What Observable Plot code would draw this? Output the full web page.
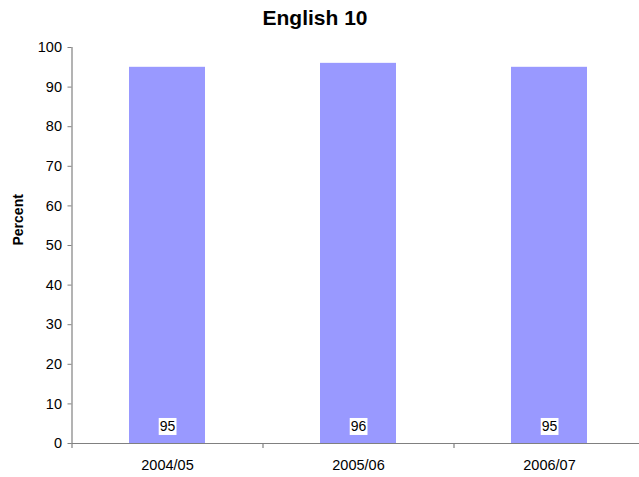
<!DOCTYPE html>
<html>
<head>
<meta charset="utf-8">
<script src="https://cdn.jsdelivr.net/npm/d3@7"></script>
<script src="https://cdn.jsdelivr.net/npm/@observablehq/plot@0.6"></script>
<style>
  html, body { margin: 0; padding: 0; background: #fff; }
  #title { box-sizing: border-box; height: 35px; width: 639px; padding-top: 7px; padding-right: 9px; text-align: center; font-family: "Liberation Sans", Arial, sans-serif; font-weight: bold; font-size: 21px; line-height: 21px; color: #000; }
  #chart { width: 639px; }
</style>
</head>
<body>
<div id="title">English 10</div>
<div id="chart"></div>
<script>
const years = ["2004/05", "2005/06", "2006/07"];
const values = [95, 96, 95];
const yTicks = [0, 10, 20, 30, 40, 50, 60, 70, 80, 90, 100];
const yLabel = "Percent";

const data = years.map((y, i) => ({year: y, value: values[i]}));

const W = 639, H = 442;
const xRange = [71.5, 644.5];
const step = (xRange[1] - xRange[0]) / years.length;
const font = "Liberation Sans, Arial, sans-serif";
const axisColor = "#808080";

const plot = Plot.plot({
  width: W,
  height: H,
  marginLeft: 71.5,
  marginRight: 0,
  marginTop: 12,
  marginBottom: 34,
  style: {fontFamily: font, fontSize: "14px", color: "#000", background: "#fff"},
  x: {domain: years, range: xRange, paddingInner: 0.6, paddingOuter: 0.3, align: 0.5},
  y: {domain: [0, 100]},
  marks: [
    Plot.barY(data, {x: "year", y: "value", fill: "#9999FF"}),
    // y axis line
    Plot.ruleX(years.slice(0, 1), {x: d => d, dx: -step / 2, y1: 0, y2: 100, stroke: axisColor, strokeWidth: 1.2}),
    // x axis line
    Plot.ruleY([0], {stroke: axisColor, strokeWidth: 1.2}),
    // category boundary ticks
    Plot.ruleX(years, {x: d => d, dx: -step / 2, y1: 0, y2: 0, insetBottom: -5, stroke: axisColor, strokeWidth: 1.2}),
    Plot.axisY({ticks: yTicks, tickSize: 4, tickPadding: 6, stroke: axisColor, fill: "#000", label: null, fontSize: 14.5}),
    Plot.axisX({tickSize: 0, tickPadding: 16, label: null, fontSize: 14.5, fill: "#000"}),
    Plot.text([yLabel], {frameAnchor: "left", dx: -53, rotate: -90, fontWeight: "bold", fontSize: 14, fill: "#000", text: d => d}),
    Plot.text(data, {x: "year", y: 0, dy: -17, text: d => String(d.value), fontSize: 14, fill: "#000", className: "barlabel"})
  ]
});

document.getElementById("chart").appendChild(plot);

// white background boxes behind the value labels
plot.querySelectorAll(".barlabel text").forEach(t => {
  const b = t.getBBox();
  const r = document.createElementNS("http://www.w3.org/2000/svg", "rect");
  r.setAttribute("x", b.x - 1);
  r.setAttribute("y", b.y);
  r.setAttribute("width", b.width + 2);
  r.setAttribute("height", b.height + 1);
  r.setAttribute("fill", "#fff");
  const tr = t.getAttribute("transform");
  if (tr) r.setAttribute("transform", tr);
  t.parentNode.insertBefore(r, t);
});
</script>
</body>
</html>
